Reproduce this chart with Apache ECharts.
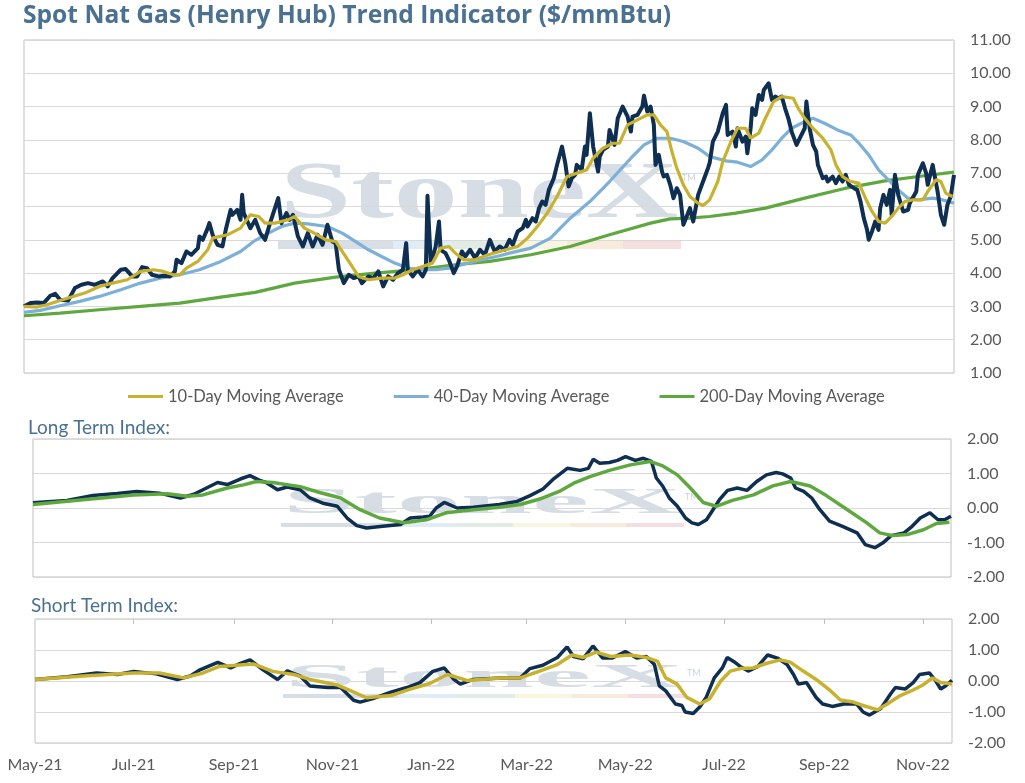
<!DOCTYPE html>
<html>
<head>
<meta charset="utf-8">
<script src="https://cdn.jsdelivr.net/npm/echarts@6/dist/echarts.min.js"></script>
<style>
html,body{margin:0;padding:0;background:#fff;}
#c{width:1025px;height:783px;}
</style>
</head>
<body>
<div id="c"></div>
<script>
// ---- x positions are day offsets from 1-May-2021 ----
const monthTicks = [0, 61, 123, 184, 245, 304, 365, 426, 488, 549];
const monthLabels = ['May-21','Jul-21','Sep-21','Nov-21','Jan-22','Mar-22','May-22','Jul-22','Sep-22','Nov-22'];
const priceTicks = [1,2,3,4,5,6,7,8,9,10,11];
const indexTicks = [-2,-1,0,1,2];

// Spot price
const spotDays = [0,4,8,12,16,19,22,27,31,35,39,43,48,51,54,59,62,66,69,72,75,78,82,85,89,92,93,96,99,102,106,107,109,112,113,115,118,121,123,126,127,130,132,133,134,138,141,144,147,150,152,155,157,160,162,164,167,170,173,176,179,182,185,188,190,192,195,198,201,204,206,210,213,216,219,222,225,228,231,233,234,237,240,243,245,246,248,251,253,254,257,259,262,264,267,269,272,275,278,281,284,287,290,293,296,298,301,304,306,307,310,312,314,316,318,320,323,325,328,330,332,334,336,337,340,342,343,345,347,350,351,353,356,357,360,362,365,368,370,371,374,377,378,380,382,384,385,387,389,390,392,394,396,398,400,402,404,406,408,411,412,414,417,418,420,423,426,428,429,432,434,435,438,440,441,443,444,446,448,450,451,454,456,458,460,462,464,466,468,471,473,476,477,479,481,483,484,487,489,490,493,495,497,499,501,503,506,508,510,512,514,515,517,519,521,522,524,526,528,529,531,533,536,539,540,544,545,548,550,551,554,557,559,561,563,565,567];
const spotPrice = [3.0,3.1,3.12,3.1,3.32,3.38,3.2,3.18,3.55,3.65,3.7,3.65,3.75,3.6,3.85,4.1,4.12,3.9,3.9,4.18,4.15,3.95,3.9,3.92,3.9,4.05,4.4,4.3,4.65,4.55,4.75,5.1,5.0,5.35,5.5,5.15,4.85,4.8,5.3,5.9,5.75,5.9,5.6,6.35,5.8,5.35,5.6,5.2,5.0,5.5,5.8,6.25,5.5,5.8,5.6,5.75,5.1,4.8,5.2,4.8,5.15,4.85,5.45,4.95,4.9,4.1,3.7,3.95,3.85,3.9,3.7,3.9,3.85,4.05,3.6,3.9,3.8,4.0,4.1,4.9,4.1,3.9,4.1,3.9,4.1,6.32,4.3,4.8,5.55,4.7,4.6,4.4,4.0,4.2,4.65,4.5,4.7,4.45,4.7,4.55,5.0,4.65,4.8,4.7,5.0,4.85,5.25,5.35,5.6,5.4,5.65,5.55,5.95,6.15,6.05,6.5,6.85,7.25,7.8,7.3,6.6,6.85,6.95,7.25,7.1,7.8,7.55,8.8,7.8,7.05,7.5,7.7,7.8,8.3,7.85,8.65,9.0,8.7,8.25,8.7,8.75,9.0,9.33,8.85,9.0,8.45,7.25,7.55,7.05,6.9,6.95,6.65,6.25,6.55,6.35,5.45,5.7,5.95,5.55,6.35,6.4,6.75,7.15,7.3,7.95,8.25,8.8,9.05,8.15,8.25,7.8,8.35,7.95,8.1,7.6,8.35,8.95,8.75,9.35,9.2,9.5,9.7,9.2,9.3,9.25,9.3,8.95,8.65,8.25,7.85,8.05,8.35,9.15,8.35,7.85,7.65,7.25,6.85,6.9,6.75,6.9,6.7,6.9,6.75,6.95,6.65,6.55,6.5,6.15,5.65,5.3,5.0,5.25,5.55,5.3,5.95,6.35,6.05,6.5,5.75,6.95,6.35,5.85,5.9,6.1,6.45,6.95,7.3,7.0,6.65,7.25,6.45,5.75,5.45,6.05,6.3,6.95];

// 10-day moving average
const ma10Days = [0,8,14,22,30,38,46,54,63,71,79,85,91,95,99,106,112,115,124,132,138,143,147,153,161,165,171,177,184,190,196,200,204,210,218,226,231,237,243,249,254,259,263,268,275,283,290,301,307,313,319,325,331,337,343,347,353,359,363,368,374,380,384,388,392,395,398,402,406,411,414,418,423,426,431,435,440,443,448,452,457,462,469,472,476,481,487,492,495,499,504,509,513,517,521,525,529,533,537,542,548,551,556,559,562,566];
const ma10 = [3.0,2.98,3.05,3.18,3.3,3.42,3.6,3.7,3.8,4.05,4.1,4.05,3.95,3.95,4.15,4.35,4.7,5.05,5.15,5.35,5.75,5.7,5.5,5.5,5.6,5.7,5.35,5.2,5.0,4.95,4.5,4.2,3.9,3.8,3.85,3.85,3.95,4.1,4.2,4.3,4.75,4.8,4.6,4.4,4.4,4.55,4.65,4.8,5.05,5.4,5.8,6.3,6.9,7.0,7.1,7.45,7.75,7.9,7.9,8.45,8.6,8.75,8.75,8.45,8.25,7.65,7.15,6.65,6.3,6.1,6.03,6.2,6.75,7.35,7.95,8.35,8.35,8.05,8.2,8.65,9.15,9.3,9.25,8.95,8.65,8.35,8.05,7.7,7.25,6.9,6.75,6.7,6.25,5.85,5.55,5.5,5.7,5.95,6.15,6.2,6.2,6.45,6.8,6.75,6.4,6.3];

// 40-day moving average
const ma40Days = [0,10,22,34,46,59,71,83,95,107,120,132,140,149,157,165,173,185,194,202,210,218,226,234,243,251,259,267,279,290,296,309,321,333,345,357,370,378,386,394,402,411,418,428,435,443,450,456,462,468,474,481,488,496,504,509,515,521,527,533,539,545,554,560,567];
const ma40 = [2.82,2.88,3.02,3.15,3.3,3.5,3.7,3.85,3.95,4.1,4.35,4.65,4.95,5.2,5.4,5.5,5.48,5.4,5.2,4.95,4.7,4.5,4.3,4.15,4.1,4.1,4.15,4.25,4.4,4.52,4.6,4.75,5.05,5.65,6.15,6.75,7.45,7.85,8.05,8.05,7.95,7.75,7.5,7.37,7.33,7.2,7.4,7.7,8.05,8.35,8.5,8.65,8.5,8.3,8.15,7.9,7.55,7.1,6.8,6.5,6.25,6.2,6.25,6.2,6.1];

// 200-day moving average
const ma200Days = [0,22,46,71,95,120,141,165,190,214,238,263,284,309,333,357,382,394,406,418,434,452,476,501,525,550,567];
const ma200 = [2.72,2.8,2.9,3.0,3.1,3.28,3.42,3.7,3.88,4.0,4.1,4.25,4.35,4.55,4.8,5.15,5.5,5.63,5.65,5.7,5.8,5.95,6.25,6.55,6.77,6.93,7.03];

// Long term index
const ltFastDays = [0,21,37,52,64,78,91,99,105,114,120,128,134,140,144,151,157,165,171,179,188,194,200,206,216,227,233,241,245,249,254,262,272,288,299,307,315,321,330,338,343,346,350,356,361,366,372,377,382,385,389,393,398,403,407,411,416,420,424,429,435,441,447,453,459,463,468,471,476,481,486,492,500,509,514,520,525,530,538,543,548,554,559,563,567];
const ltFast = [0.15,0.22,0.36,0.42,0.48,0.43,0.29,0.39,0.53,0.74,0.68,0.84,0.94,0.8,0.74,0.53,0.61,0.53,0.29,0.14,0.05,-0.29,-0.51,-0.58,-0.53,-0.48,-0.29,-0.26,-0.24,0.0,0.16,0.0,0.02,0.1,0.19,0.36,0.55,0.82,1.15,1.09,1.15,1.41,1.3,1.32,1.38,1.49,1.38,1.44,1.35,0.87,0.63,0.29,0.05,-0.29,-0.43,-0.48,-0.34,-0.05,0.24,0.51,0.58,0.51,0.77,0.96,1.03,0.99,0.87,0.58,0.48,0.29,-0.05,-0.38,-0.53,-0.72,-1.06,-1.15,-1.01,-0.8,-0.72,-0.53,-0.29,-0.14,-0.34,-0.34,-0.24];
const ltSlowDays = [0,31,62,83,95,105,120,130,138,148,165,177,190,202,214,229,243,255,272,288,301,313,325,334,344,356,369,381,389,398,406,414,422,432,445,457,468,480,490,503,515,523,531,540,550,558,566];
const ltSlow = [0.1,0.24,0.38,0.41,0.34,0.38,0.58,0.67,0.77,0.74,0.62,0.45,0.29,-0.05,-0.29,-0.43,-0.34,-0.14,-0.05,0.02,0.1,0.26,0.48,0.72,0.91,1.09,1.25,1.35,1.22,0.96,0.58,0.16,0.05,0.22,0.38,0.64,0.77,0.64,0.36,-0.05,-0.43,-0.72,-0.8,-0.77,-0.63,-0.45,-0.41];

// Short term index
const stFastDays = [0,20,38,51,61,75,88,96,102,113,121,127,133,141,150,156,164,170,181,189,197,201,209,220,230,238,246,253,259,263,271,288,300,306,314,323,329,333,339,345,351,357,365,372,378,383,386,390,396,400,402,407,411,415,420,425,428,432,436,441,447,453,459,465,469,472,477,483,487,493,500,508,512,516,523,529,532,538,543,547,553,557,560,563,567];
const stFast = [0.05,0.14,0.26,0.21,0.31,0.23,0.05,0.16,0.36,0.6,0.42,0.57,0.68,0.36,0.05,0.33,0.16,-0.16,-0.21,-0.21,-0.62,-0.68,-0.57,-0.36,-0.21,-0.05,0.31,0.42,0.05,-0.1,0.05,0.1,0.1,0.4,0.51,0.76,1.1,0.79,0.72,1.13,0.74,0.74,0.95,0.74,0.79,0.53,-0.16,-0.32,-0.74,-0.79,-1.0,-1.05,-0.84,-0.53,0.1,0.42,0.76,0.63,0.47,0.32,0.47,0.84,0.74,0.53,0.21,-0.1,-0.05,-0.53,-0.74,-0.82,-0.74,-0.74,-1.0,-1.1,-0.89,-0.42,-0.21,-0.26,-0.05,0.21,0.26,0.0,-0.26,-0.16,0.02];
const stSlowDays = [0,30,61,77,92,104,114,135,147,160,170,187,195,205,220,232,244,255,267,288,300,312,323,332,339,347,356,368,378,385,390,397,403,411,417,424,430,436,444,453,461,467,475,483,492,498,506,512,521,527,535,543,549,555,560,567];
const stSlow = [0.05,0.16,0.26,0.26,0.1,0.26,0.47,0.55,0.31,0.21,0.05,-0.13,-0.31,-0.54,-0.47,-0.26,-0.08,0.21,0.02,0.1,0.1,0.32,0.53,0.84,0.76,0.93,0.79,0.84,0.76,0.63,0.1,-0.1,-0.53,-0.74,-0.58,0.0,0.32,0.4,0.42,0.58,0.68,0.61,0.32,0.05,-0.32,-0.61,-0.68,-0.79,-0.93,-0.74,-0.47,-0.29,-0.13,0.1,-0.05,-0.1];

const zip = (d, v) => d.map((x, i) => [x, v[i]]);

const FONT = 'Lato';
const LABEL = '#595959';
const TITLE = '#4b7192';
const NAVY = '#0f2f52';
const GOLD = '#c8b12f';
const BLUE = '#7db0d8';
const GREEN = '#5fa83f';
const GRIDLINE = '#d9d9d9';
const BORDER = '#bfbfbf';

function watermark(xLeft, yMid, sy, barTop, barH) {
  const els = [
    {type:'text', x:xLeft, y:yMid, scaleX:1.6, scaleY:sy, silent:true,
     style:{text:'StoneX', font:'bold 80px "Liberation Serif"', fill:'rgba(170,183,200,0.48)', align:'left', verticalAlign:'middle'}},
    {type:'text', x:xLeft+402, y:yMid - 22*sy, silent:true,
     style:{text:'TM', font:'9px Lato', fill:'rgba(165,178,196,0.6)'}}
  ];
  const segs = [[278,393,'rgba(190,200,214,0.6)'],[393,452,'rgba(205,225,240,0.6)'],[452,510,'rgba(205,225,210,0.6)'],
                [510,567,'rgba(245,238,205,0.6)'],[567,623,'rgba(245,222,196,0.6)'],[623,681,'rgba(238,200,204,0.6)']];
  segs.forEach(s => els.push({type:'rect', silent:true, shape:{x:s[0]+(xLeft-280), y:barTop, width:s[1]-s[0], height:barH}, style:{fill:s[2]}}));
  return els;
}

const chart = echarts.init(document.getElementById('c'));

const yLabel = {color: LABEL, fontFamily: FONT, fontSize: 16, margin: 16, formatter: v => v.toFixed(2)};

chart.setOption({
  animation: false,
  backgroundColor: '#fff',
  textStyle: {fontFamily: FONT},
  title: [
    {text: 'Spot Nat Gas (Henry Hub) Trend Indicator ($/mmBtu)', left: 23, top: 3, padding: 0,
     textStyle: {fontFamily: 'Open Sans', fontWeight: 'bold', fontSize: 24.6, color: TITLE}},
    {text: 'Long Term Index:', left: 28, top: 418, padding: 0, textStyle: {fontFamily: FONT, fontWeight: 'normal', fontSize: 19, color: TITLE}},
    {text: 'Short Term Index:', left: 31, top: 596, padding: 0, textStyle: {fontFamily: FONT, fontWeight: 'normal', fontSize: 19, color: TITLE}}
  ],
  legend: {
    left: 128, top: 388, padding: 0, icon: 'rect', itemWidth: 35, itemHeight: 3, itemGap: 50,
    textStyle: {color: LABEL, fontFamily: FONT, fontSize: 16.5},
    data: ['10-Day Moving Average', '40-Day Moving Average', '200-Day Moving Average']
  },
  graphic: [].concat(
    watermark(280, 196, 1, 240, 9),
    watermark(283, 503, 0.46, 523, 4),
    watermark(285, 678, 0.42, 694, 4)
  ),
  grid: [
    {left: 24, right: 71, top: 40, bottom: 410, show: true, borderColor: BORDER, borderWidth: 1},
    {left: 33, right: 74, top: 439, bottom: 206, show: true, borderColor: BORDER, borderWidth: 1},
    {left: 35, right: 73, top: 619, bottom: 40, show: true, borderColor: BORDER, borderWidth: 1}
  ],
  xAxis: [
    {type: 'value', gridIndex: 0, min: 0, max: 567, show: false},
    {type: 'value', gridIndex: 1, min: 0, max: 567, show: false},
    {type: 'value', gridIndex: 2, min: 0, max: 567, position: 'bottom',
     axisLine: {show: false}, axisTick: {show: false}, splitLine: {show: false},
     axisLabel: {customValues: monthTicks, color: LABEL, fontFamily: FONT, fontSize: 16, margin: 14,
       formatter: v => { const i = monthTicks.indexOf(Math.round(v)); return i >= 0 ? monthLabels[i] : ''; }}},
    {type: 'value', gridIndex: 2, min: 0, max: 567, position: 'top',
     axisLine: {show: false}, splitLine: {show: false}, axisLabel: {show: false},
     axisTick: {show: true, inside: true, length: 5, customValues: monthTicks.slice(1), lineStyle: {color: BORDER}}}
  ],
  yAxis: [
    {type: 'value', gridIndex: 0, position: 'right', min: priceTicks[0], max: priceTicks[priceTicks.length-1], interval: 1,
     axisLine: {show: false}, axisTick: {show: false}, axisLabel: yLabel, splitLine: {lineStyle: {color: GRIDLINE}}},
    {type: 'value', gridIndex: 1, position: 'right', min: indexTicks[0], max: indexTicks[indexTicks.length-1], interval: 1,
     axisLine: {show: false}, axisTick: {show: false}, axisLabel: yLabel, splitLine: {lineStyle: {color: GRIDLINE}}},
    {type: 'value', gridIndex: 2, position: 'right', min: indexTicks[0], max: indexTicks[indexTicks.length-1], interval: 1,
     axisLine: {show: false}, axisTick: {show: false}, axisLabel: yLabel, splitLine: {lineStyle: {color: GRIDLINE}}}
  ],
  series: [
    {name: '200-Day Moving Average', type: 'line', xAxisIndex: 0, yAxisIndex: 0, showSymbol: false, symbol: 'none', z: 3,
     lineStyle: {color: GREEN, width: 3.2}, itemStyle: {color: GREEN}, data: zip(ma200Days, ma200)},
    {name: '40-Day Moving Average', type: 'line', xAxisIndex: 0, yAxisIndex: 0, showSymbol: false, symbol: 'none', z: 4,
     lineStyle: {color: BLUE, width: 3.2}, itemStyle: {color: BLUE}, data: zip(ma40Days, ma40)},
    {name: 'Spot', type: 'line', xAxisIndex: 0, yAxisIndex: 0, showSymbol: false, symbol: 'none', z: 5,
     lineStyle: {color: NAVY, width: 4, join: 'round'}, itemStyle: {color: NAVY}, data: zip(spotDays, spotPrice)},
    {name: '10-Day Moving Average', type: 'line', xAxisIndex: 0, yAxisIndex: 0, showSymbol: false, symbol: 'none', z: 6,
     lineStyle: {color: GOLD, width: 3.2}, itemStyle: {color: GOLD}, data: zip(ma10Days, ma10)},

    {name: 'LT Fast', type: 'line', xAxisIndex: 1, yAxisIndex: 1, showSymbol: false, symbol: 'none', z: 5,
     lineStyle: {color: NAVY, width: 3.5}, data: zip(ltFastDays, ltFast)},
    {name: 'LT Slow', type: 'line', xAxisIndex: 1, yAxisIndex: 1, showSymbol: false, symbol: 'none', z: 6,
     lineStyle: {color: GREEN, width: 3.5}, data: zip(ltSlowDays, ltSlow)},

    {name: 'ST Fast', type: 'line', xAxisIndex: 2, yAxisIndex: 2, showSymbol: false, symbol: 'none', z: 5,
     lineStyle: {color: NAVY, width: 3.5}, data: zip(stFastDays, stFast)},
    {name: 'ST Slow', type: 'line', xAxisIndex: 2, yAxisIndex: 2, showSymbol: false, symbol: 'none', z: 6,
     lineStyle: {color: GOLD, width: 3.5}, data: zip(stSlowDays, stSlow)}
  ]
});
</script>
</body>
</html>
